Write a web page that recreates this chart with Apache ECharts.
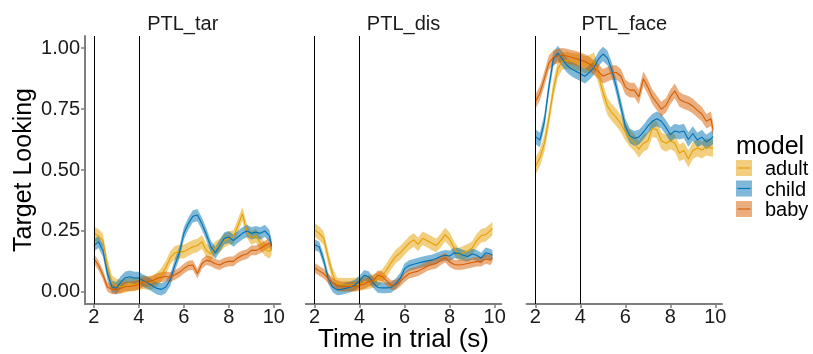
<!DOCTYPE html>
<html><head><meta charset="utf-8">
<script src="https://cdn.jsdelivr.net/npm/echarts@6/dist/echarts.min.js"></script>
<style>html,body{margin:0;padding:0;background:#fff}#c{width:813px;height:354px}</style>
</head><body><div id="c"></div>
<script>
// ---- data ----
const time = [2.0,2.2,2.4,2.6,2.8,3.0,3.2,3.4,3.6,3.8,4.0,4.2,4.4,4.6,4.8,5.0,5.2,5.4,5.6,5.8,6.0,6.2,6.4,6.6,6.8,7.0,7.2,7.4,7.6,7.8,8.0,8.2,8.4,8.6,8.8,9.0,9.2,9.4,9.6,9.8,9.9];
const panels = ['PTL_tar','PTL_dis','PTL_face'];
const models = ['adult','child','baby'];
const xTicks = [2,4,6,8,10];
const yTicks = [0,0.25,0.5,0.75,1];
const phaseLines = [2,4];

const tarAdult = [0.24,0.23,0.21,0.11,0.04,0.025,0.02,0.025,0.03,0.03,0.035,0.04,0.035,0.04,0.05,0.07,0.10,0.14,0.16,0.165,0.165,0.175,0.185,0.19,0.205,0.17,0.155,0.18,0.19,0.21,0.22,0.225,0.27,0.32,0.25,0.22,0.23,0.20,0.175,0.165,0.18];
const tarChild = [0.19,0.205,0.17,0.075,0.02,0.015,0.04,0.058,0.062,0.057,0.057,0.045,0.037,0.025,0.014,0.01,0.02,0.05,0.11,0.16,0.24,0.28,0.31,0.315,0.28,0.235,0.185,0.16,0.19,0.22,0.225,0.21,0.225,0.24,0.25,0.24,0.245,0.24,0.25,0.23,0.19];
const tarBaby  = [0.135,0.11,0.07,0.02,0.01,0.01,0.015,0.022,0.022,0.025,0.03,0.04,0.042,0.045,0.055,0.06,0.063,0.06,0.07,0.08,0.095,0.108,0.11,0.075,0.115,0.13,0.125,0.115,0.11,0.12,0.125,0.125,0.14,0.15,0.155,0.17,0.17,0.178,0.19,0.2,0.185];

const disAdult = [0.254,0.24,0.22,0.14,0.07,0.03,0.029,0.029,0.029,0.03,0.032,0.036,0.04,0.045,0.05,0.065,0.09,0.12,0.145,0.16,0.18,0.2,0.213,0.195,0.22,0.21,0.2,0.19,0.21,0.235,0.215,0.18,0.152,0.16,0.168,0.18,0.21,0.23,0.235,0.25,0.26];
const disChild = [0.193,0.185,0.13,0.055,0.02,0.008,0.01,0.015,0.02,0.029,0.045,0.068,0.062,0.038,0.018,0.016,0.016,0.018,0.033,0.055,0.095,0.108,0.113,0.118,0.123,0.127,0.13,0.137,0.145,0.15,0.147,0.16,0.158,0.15,0.145,0.155,0.15,0.138,0.16,0.155,0.15];
const disBaby  = [0.098,0.086,0.075,0.055,0.037,0.027,0.022,0.022,0.022,0.021,0.027,0.032,0.042,0.045,0.068,0.063,0.045,0.027,0.028,0.042,0.06,0.075,0.08,0.085,0.095,0.105,0.112,0.116,0.13,0.14,0.122,0.112,0.11,0.112,0.116,0.12,0.124,0.124,0.135,0.13,0.14];

const faceAdult = [0.514,0.55,0.61,0.71,0.83,0.915,0.948,0.95,0.946,0.944,0.943,0.932,0.936,0.948,0.89,0.82,0.762,0.735,0.715,0.69,0.655,0.63,0.612,0.585,0.61,0.62,0.67,0.665,0.62,0.61,0.62,0.61,0.57,0.58,0.545,0.58,0.59,0.582,0.595,0.59,0.59];
const faceChild = [0.637,0.623,0.7,0.84,0.955,0.98,0.955,0.93,0.915,0.905,0.895,0.885,0.9,0.92,0.955,0.976,0.96,0.91,0.84,0.76,0.68,0.64,0.63,0.635,0.655,0.68,0.7,0.71,0.7,0.675,0.645,0.66,0.655,0.66,0.625,0.65,0.623,0.635,0.615,0.628,0.637];
const faceBaby  = [0.78,0.815,0.875,0.94,0.962,0.968,0.971,0.968,0.963,0.958,0.952,0.945,0.935,0.92,0.905,0.885,0.893,0.9,0.9,0.885,0.84,0.828,0.828,0.8,0.875,0.84,0.8,0.775,0.75,0.765,0.8,0.825,0.79,0.78,0.774,0.762,0.745,0.73,0.7,0.71,0.665];

// ribbon half-widths (standard error) per model: adult, child, baby
const seTar  = [0.028,0.025,0.02];
const seDis  = [0.028,0.022,0.02];
const seFace = [0.035,0.03,0.03];

// ---- styles / layout ----
const lineColors = ['#E69F00','#0072B2','#D55E00'];
const FONT = '"Liberation Sans", Arial, Helvetica, sans-serif';
const gridLefts = [85, 305.8, 526.5];
const gridWidth = 195.5;
const gridTop = 36, gridHeight = 268;
const xMin = 1.605, xMax = 10.295, yMin = -0.05, yMax = 1.05;

const panelData = [[tarAdult,tarChild,tarBaby],[disAdult,disChild,disBaby],[faceAdult,faceChild,faceBaby]];
const panelSe = [seTar, seDis, seFace];

function hexToRgba(hex, a){
  const n = parseInt(hex.slice(1),16);
  return 'rgba('+((n>>16)&255)+','+((n>>8)&255)+','+(n&255)+','+a+')';
}

const grids = [], xAxes = [], yAxes = [], series = [], graphics = [];
panels.forEach((p, gi) => {
  grids.push({left: gridLefts[gi], top: gridTop, width: gridWidth, height: gridHeight, containLabel: false});
  xAxes.push({
    type:'value', gridIndex: gi, min: xMin, max: xMax,
    axisLine:{show:true, onZero:false, lineStyle:{color:'#7f7f7f', width:2}},
    axisTick:{show:true, length:4, lineStyle:{color:'#7f7f7f', width:1.5}, customValues: xTicks},
    axisLabel:{show:true, customValues: xTicks, fontSize:20, color:'#1a1a1a', fontFamily: FONT, margin:3},
    splitLine:{show:false}
  });
  yAxes.push({
    type:'value', gridIndex: gi, min: yMin, max: yMax, show: gi === 0,
    axisLine:{show: gi===0, onZero:false, lineStyle:{color:'#7f7f7f', width:2}},
    axisTick:{show: gi===0, length:4, lineStyle:{color:'#7f7f7f', width:1.5}, customValues: yTicks},
    axisLabel:{show: gi===0, customValues: yTicks, fontSize:20, color:'#1a1a1a', fontFamily: FONT, margin:5,
      formatter: v => v.toFixed(2)},
    splitLine:{show:false}
  });
  // ribbons
  models.forEach((m, si) => {
    const vals = panelData[gi][si], se = panelSe[gi][si];
    series.push({
      type:'custom', name: p+'-'+m+'-ribbon', xAxisIndex: gi, yAxisIndex: gi, silent:true, z: 1 + si*0.01,
      data: time.map((t,i)=>[t, vals[i]-se, vals[i]+se]),
      encode:{x:0, y:[1,2]},
      renderItem: (params, api) => {
        if (params.dataIndex !== 0) return null;
        const up = [], lo = [];
        for (let i=0;i<time.length;i++){
          up.push(api.coord([time[i], vals[i]+se]));
          lo.push(api.coord([time[i], vals[i]-se]));
        }
        return {type:'polygon', shape:{points: up.concat(lo.reverse())}, style:{fill: hexToRgba(lineColors[si],0.5)}};
      }
    });
  });
  // lines
  models.forEach((m, si) => {
    const vals = panelData[gi][si];
    const s = {
      type:'line', name: m, xAxisIndex: gi, yAxisIndex: gi, z: 3,
      data: time.map((t,i)=>[t, vals[i]]),
      showSymbol:false, symbol:'none', silent:true, animation:false,
      lineStyle:{color: lineColors[si], width:1.1},
      emphasis:{disabled:true}
    };
    if (si === 0) {
      s.markLine = {
        silent:true, symbol:['none','none'], label:{show:false}, animation:false,
        lineStyle:{color:'#000', width:1, type:'solid'},
        emphasis:{disabled:true},
        data: phaseLines.map(v => ({xAxis: v}))
      };
    }
    series.push(s);
  });
  graphics.push({type:'text', x: gridLefts[gi] + gridWidth/2, y: 24,
    style:{text: p, font: '20px '+FONT, fill:'#1a1a1a', textAlign:'center', textVerticalAlign:'middle'}});
});

// axis titles
graphics.push({type:'text', x: (gridLefts[0] + gridLefts[2] + gridWidth)/2, y: 340,
  style:{text:'Time in trial (s)', font:'26px '+FONT, fill:'#000', textAlign:'center', textVerticalAlign:'middle'}});
graphics.push({type:'text', x: 24, y: gridTop + gridHeight/2, rotation: Math.PI/2,
  style:{text:'Target Looking', font:'25px '+FONT, fill:'#000', textAlign:'center', textVerticalAlign:'middle'}});

// legend
graphics.push({type:'text', x: 736, y: 147,
  style:{text:'model', font:'25px '+FONT, fill:'#000', textAlign:'left', textVerticalAlign:'middle'}});
const keyTops = [160, 180.5, 201];
models.forEach((m, si) => {
  graphics.push({type:'rect', shape:{x:736, y:keyTops[si], width:16, height:16},
    style:{fill: hexToRgba(lineColors[si],0.5)}});
  graphics.push({type:'line', shape:{x1:737.5, y1:keyTops[si]+8, x2:750.5, y2:keyTops[si]+8},
    style:{stroke: lineColors[si], lineWidth:1.1}});
  graphics.push({type:'text', x: 765, y: keyTops[si]+9.5,
    style:{text:m, font:'20px '+FONT, fill:'#000', textAlign:'left', textVerticalAlign:'middle'}});
});

const chart = echarts.init(document.getElementById('c'), null, {renderer:'canvas'});
chart.setOption({
  animation:false,
  backgroundColor:'#fff',
  grid: grids, xAxis: xAxes, yAxis: yAxes, series: series, graphic: graphics,
  tooltip:{show:false}
});
</script>
</body></html>
